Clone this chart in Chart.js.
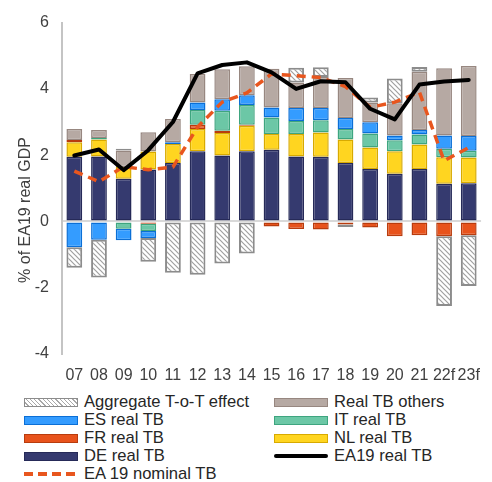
<!DOCTYPE html>
<html>
<head>
<meta charset="utf-8">
<script src="https://cdn.jsdelivr.net/npm/chart.js@4.4.1/dist/chart.umd.min.js"></script>
<style>
  html, body { margin: 0; padding: 0; background: #fff; }
  #wrap { position: relative; width: 492px; height: 482px; font-family: "Liberation Sans", Arial, sans-serif; }
  #chart { position: absolute; left: 0; top: 0; }
  .lg { position: absolute; font-size: 16.6px; color: #262626; line-height: 18px; white-space: nowrap; }
  .sw { position: absolute; box-sizing: border-box; }
</style>
</head>
<body>
<div id="wrap">
  <canvas id="chart" width="492" height="390"></canvas>
  <div id="legend"></div>
</div>
<script>
// Years (f = forecast)
const categories = ['07','08','09','10','11','12','13','14','15','16','17','18','19','20','21','22f','23f'];

// Contributions to the euro-area trade balance, % of EA19 real GDP
const deRealTB     = [1.95, 1.96, 1.29, 1.57, 1.76, 2.12, 1.99, 2.12, 2.16, 1.96, 1.95, 1.76, 1.58, 1.44, 1.58, 1.14, 1.15];
const nlRealTB     = [0.44, 0.51, 0.35, 0.54, 0.58, 0.67, 0.68, 0.77, 0.48, 0.68, 0.73, 0.71, 0.65, 0.68, 0.74, 0.80, 0.78];
const frRealTB     = [0.07, 0.00, 0.00, -0.07, 0.00, 0.13, 0.07, 0.03, -0.15, -0.23, -0.24, -0.09, -0.18, -0.45, -0.42, -0.45, -0.42];
const itRealTB     = [0.00, 0.05, -0.22, -0.22, 0.00, 0.44, 0.60, 0.59, 0.50, 0.39, 0.37, 0.32, 0.42, 0.33, 0.30, 0.25, 0.20];
const esRealTB     = [-0.78, -0.55, -0.35, -0.21, 0.05, 0.23, 0.35, 0.30, 0.30, 0.39, 0.37, 0.33, 0.34, 0.14, 0.14, 0.40, 0.45];
const othersRealTB = [0.33, 0.24, 0.50, 0.58, 0.70, 0.86, 0.90, 0.87, 1.17, 0.77, 0.94, 1.21, 0.60, 0.98, 1.76, 2.03, 2.11];
const totEffect    = [-0.62, -1.14, 0.05, -0.72, -1.55, -1.61, -1.27, -0.97, 0.00, 0.45, 0.29, -0.08, 0.15, 0.74, 0.14, -2.10, -1.53];

// Aggregate balances
const ea19RealTB    = [1.99, 2.17, 1.55, 2.15, 3.00, 4.47, 4.72, 4.80, 4.50, 4.00, 4.23, 4.20, 3.40, 3.08, 4.13, 4.22, 4.27];
const ea19NominalTB = [1.52, 1.20, 1.65, 1.56, 1.64, 2.85, 3.60, 3.88, 4.45, 4.40, 4.34, 4.07, 3.44, 3.60, 3.90, 1.83, 2.23];

const yTicks = [-4, -2, 0, 2, 4, 6];

// White fill with grey diagonal hatching for the terms-of-trade bars
function hatchPattern() {
  const c = document.createElement('canvas');
  c.width = 5; c.height = 5;
  const g = c.getContext('2d');
  g.fillStyle = '#ffffff';
  g.fillRect(0, 0, 5, 5);
  g.strokeStyle = '#a0a0a0';
  g.lineWidth = 1.2;
  g.beginPath();
  g.moveTo(-1, -1); g.lineTo(6, 6);
  g.moveTo(-1, 4); g.lineTo(1, 6);
  g.moveTo(4, -1); g.lineTo(6, 1);
  g.stroke();
  return g.createPattern(c, 'repeat');
}
const hatch = hatchPattern();

function barSet(label, data, fill, edge, bw) {
  return {
    type: 'bar', label, data,
    backgroundColor: fill, borderColor: edge, borderWidth: bw || 1.5,
    borderSkipped: false, order: 1,
    barPercentage: 0.64, categoryPercentage: 1.0,
    legendFill: fill === hatch ? 'hatch' : fill
  };
}

const datasets = [
  barSet('DE real TB', deRealTB, '#353a6f', '#262a58'),
  barSet('NL real TB', nlRealTB, '#ffd520', '#d8aa00'),
  barSet('FR real TB', frRealTB, '#e8531c', '#b83c0e'),
  barSet('IT real TB', itRealTB, '#6cc7a6', '#3ea57f'),
  barSet('ES real TB', esRealTB, '#349cff', '#0b6fd6'),
  barSet('Real TB others', othersRealTB, '#b6a9a3', '#978780'),
  barSet('Aggregate T-o-T effect', totEffect, hatch, '#8c8c8c', 2),
  {
    type: 'line', label: 'EA19 real TB', data: ea19RealTB, stack: 'real',
    borderColor: '#000000', backgroundColor: '#000000', borderWidth: 4,
    pointRadius: 0, tension: 0, order: 0, borderJoinStyle: 'round', borderCapStyle: 'round'
  },
  {
    type: 'line', label: 'EA 19 nominal TB', data: ea19NominalTB, stack: 'nominal',
    borderColor: '#e8561e', backgroundColor: '#e8561e', borderWidth: 3.5, borderDash: [9, 6],
    pointRadius: 0, tension: 0, order: 0, borderJoinStyle: 'round'
  }
];

// Rotated y-axis title
const yTitlePlugin = {
  id: 'yTitle',
  afterDraw(chart) {
    const ctx = chart.ctx;
    ctx.save();
    ctx.translate(26, 210);
    ctx.rotate(-Math.PI / 2);
    ctx.font = '16px "Liberation Sans", Arial, sans-serif';
    ctx.fillStyle = '#404040';
    ctx.textAlign = 'center';
    ctx.textBaseline = 'middle';
    ctx.fillText('% of EA19 real GDP', 0, 0);
    ctx.restore();
  }
};

const tickFont = { family: '"Liberation Sans", Arial, sans-serif', size: 16 };

const chart = new Chart(document.getElementById('chart'), {
  data: { labels: categories, datasets },
  options: {
    responsive: false, animation: false, devicePixelRatio: 1,
    layout: { padding: { left: 0, right: 5, top: 22, bottom: 0 } },
    plugins: { legend: { display: false }, tooltip: { enabled: false } },
    scales: {
      x: {
        stacked: true,
        grid: { display: false, drawTicks: false },
        border: { display: false },
        ticks: { font: tickFont, color: '#404040', padding: 12, maxRotation: 0, autoSkip: false },
        afterFit(s) { s.height = 36; }
      },
      y: {
        stacked: true, min: -4, max: 6, z: 1,
        afterBuildTicks(s) { s.ticks = yTicks.map(v => ({ value: v })); },
        grid: {
          drawTicks: false, lineWidth: 2,
          color: c => (c.tick && c.tick.value === 0 ? '#d9d9d9' : 'rgba(0,0,0,0)')
        },
        border: { display: true, color: '#c4c4c4', width: 2 },
        ticks: { font: tickFont, color: '#404040', padding: 13 },
        afterFit(s) { s.width = 62; }
      }
    }
  },
  plugins: [yTitlePlugin]
});

// Two-column legend built from the chart's datasets
(function buildLegend() {
  const bars = chart.data.datasets.filter(d => d.type === 'bar').reverse();
  const lines = chart.data.datasets.filter(d => d.type === 'line');
  const items = bars.concat(lines);
  const host = document.getElementById('legend');
  const colX = [24, 274];
  const rowY = [402, 420, 438, 456, 474];
  items.forEach((d, i) => {
    const col = i % 2, row = Math.floor(i / 2);
    const sw = document.createElement('div');
    sw.className = 'sw';
    sw.style.left = colX[col] + 'px';
    sw.style.width = '54px';
    if (d.type === 'bar') {
      sw.style.top = (rowY[row] - 4.5) + 'px';
      sw.style.height = '9px';
      sw.style.border = '1.5px solid ' + d.borderColor;
      sw.style.background = d.legendFill === 'hatch'
        ? 'repeating-linear-gradient(45deg, #ffffff 0 2px, #a8a8a8 2px 3px)'
        : d.legendFill;
    } else if (d.borderDash) {
      sw.style.top = (rowY[row] - 2) + 'px';
      sw.style.height = '4px';
      sw.style.background = 'repeating-linear-gradient(90deg, ' + d.borderColor + ' 0 9px, transparent 9px 14px)';
    } else {
      sw.style.top = (rowY[row] - 2) + 'px';
      sw.style.height = '4px';
      sw.style.borderRadius = '2px';
      sw.style.background = d.borderColor;
    }
    host.appendChild(sw);
    const t = document.createElement('div');
    t.className = 'lg';
    t.style.left = (colX[col] + 60) + 'px';
    t.style.top = (rowY[row] - 9) + 'px';
    t.textContent = d.label;
    host.appendChild(t);
  });
})();
</script>
</body>
</html>
